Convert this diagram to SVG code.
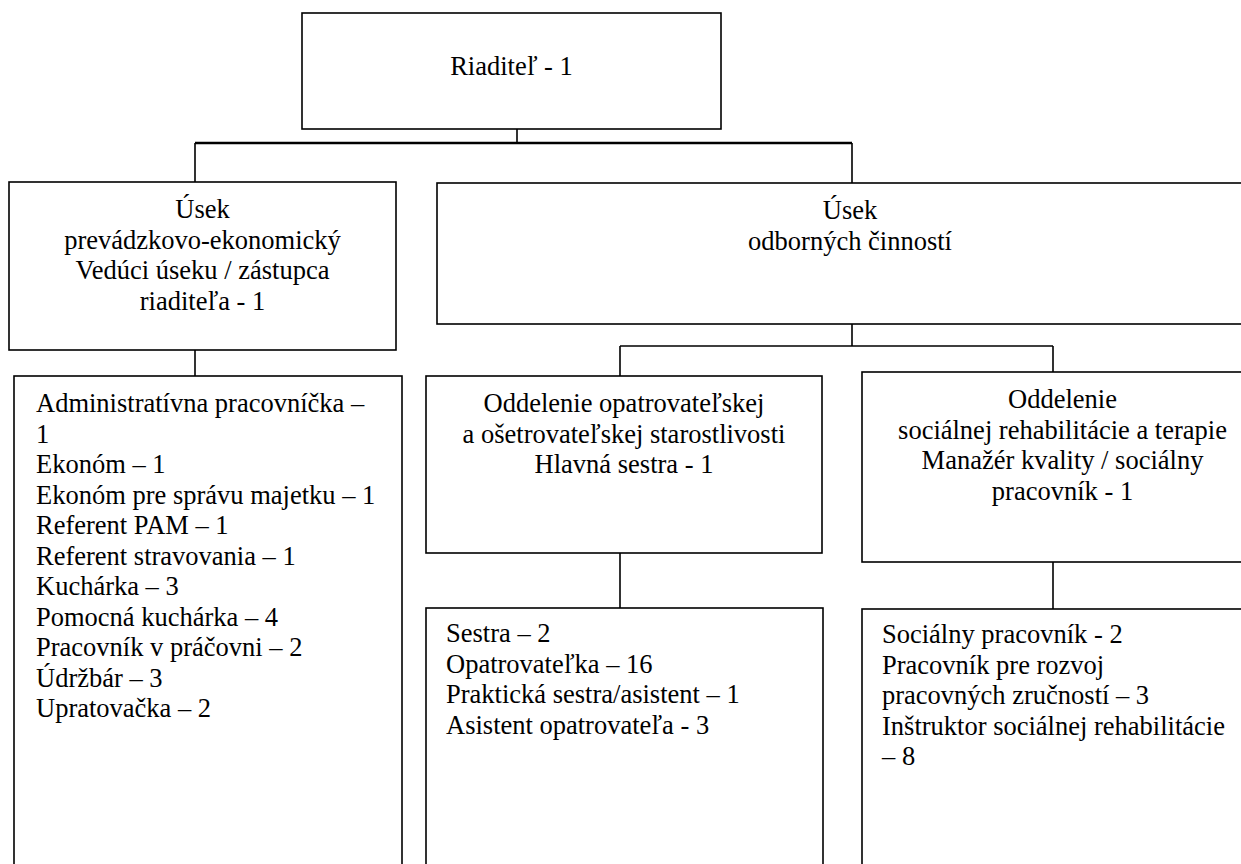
<svg xmlns="http://www.w3.org/2000/svg" width="1241" height="864" viewBox="0 0 1241 864">
<style>
  .box{fill:#fff;stroke:#000;stroke-width:1.6}
  .ln{fill:none;stroke:#000;stroke-width:1.6}
  text{font-family:'Liberation Serif','Tinos','Times New Roman','DejaVu Serif',serif;font-size:26.5px;fill:#000}
  .c{text-anchor:middle}
</style>
<rect width="1241" height="864" fill="#fff"/>
<g id="connectors">
  <path class="ln" d="M517 129V143"/>
  <path class="ln" style="stroke-width:2.4" d="M195 143H852"/>
  <path class="ln" d="M195 143V182M852 143V183"/>
  <path class="ln" d="M195 350V376"/>
  <path class="ln" d="M852 324V346M620 346H1053M620 346V376M1053 346V372"/>
  <path class="ln" d="M620 553V608"/>
  <path class="ln" d="M1053 562V609"/>
</g>
<g id="riaditel" font-family="Liberation Serif, serif">
  <rect class="box" x="302" y="13" width="419" height="116"/>
  <text class="c" x="511.5" y="75">Riaditeľ - 1</text>
</g>
<g id="usek-prevadzkovo">
  <rect class="box" x="9" y="182" width="387" height="168"/>
  <text class="c" x="202.5" y="218">Úsek</text>
  <text class="c" x="202.5" y="248.5">prevádzkovo-ekonomický</text>
  <text class="c" x="202.5" y="279">Vedúci úseku / zástupca</text>
  <text class="c" x="202.5" y="309.5">riaditeľa - 1</text>
</g>
<g id="usek-odbornych">
  <rect class="box" x="437" y="183" width="826" height="141"/>
  <text class="c" x="850" y="219">Úsek</text>
  <text class="c" x="850" y="249.5">odborných činností</text>
</g>
<g id="prevadzkovo-list">
  <rect class="box" x="14" y="376" width="388" height="520"/>
  <text x="36" y="412">Administratívna pracovníčka –</text>
  <text x="36" y="442.5">1</text>
  <text x="36" y="473">Ekonóm – 1</text>
  <text x="36" y="503.5">Ekonóm pre správu majetku – 1</text>
  <text x="36" y="534">Referent PAM – 1</text>
  <text x="36" y="564.5">Referent stravovania – 1</text>
  <text x="36" y="595">Kuchárka – 3</text>
  <text x="36" y="625.5">Pomocná kuchárka – 4</text>
  <text x="36" y="656">Pracovník v práčovni – 2</text>
  <text x="36" y="686.5">Údržbár – 3</text>
  <text x="36" y="717">Upratovačka – 2</text>
</g>
<g id="oddelenie-opatrovatelskej">
  <rect class="box" x="426" y="376" width="396" height="177"/>
  <text class="c" x="624" y="412">Oddelenie opatrovateľskej</text>
  <text class="c" x="624" y="442.5">a ošetrovateľskej starostlivosti</text>
  <text class="c" x="624" y="473">Hlavná sestra - 1</text>
</g>
<g id="oddelenie-socialnej">
  <rect class="box" x="862" y="372" width="401" height="190"/>
  <text class="c" x="1062.5" y="408">Oddelenie</text>
  <text class="c" x="1062.5" y="438.5">sociálnej rehabilitácie a terapie</text>
  <text class="c" x="1062.5" y="469">Manažér kvality / sociálny</text>
  <text class="c" x="1062.5" y="499.5">pracovník - 1</text>
</g>
<g id="opatrovatelskej-list">
  <rect class="box" x="426" y="608" width="397" height="290"/>
  <text x="446" y="642">Sestra – 2</text>
  <text x="446" y="672.5">Opatrovateľka – 16</text>
  <text x="446" y="703">Praktická sestra/asistent – 1</text>
  <text x="446" y="733.5">Asistent opatrovateľa - 3</text>
</g>
<g id="socialnej-list">
  <rect class="box" x="862" y="609" width="401" height="290"/>
  <text x="882" y="643">Sociálny pracovník - 2</text>
  <text x="882" y="673.5">Pracovník pre rozvoj</text>
  <text x="882" y="704">pracovných zručností – 3</text>
  <text x="882" y="734.5">Inštruktor sociálnej rehabilitácie</text>
  <text x="882" y="765">– 8</text>
</g>
</svg>
